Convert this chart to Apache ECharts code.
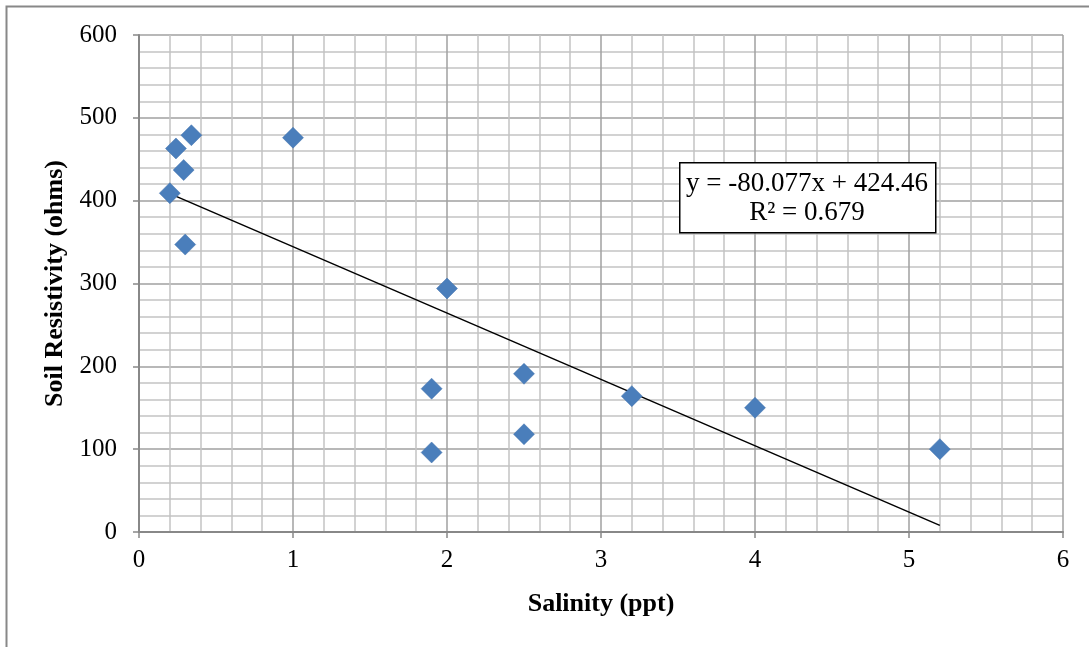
<!DOCTYPE html>
<html>
<head>
<meta charset="utf-8">
<script src="https://cdn.jsdelivr.net/npm/echarts@6/dist/echarts.min.js"></script>
<style>html,body{margin:0;padding:0;background:#fff;}#c{width:1089px;height:647px;}</style>
</head>
<body>
<div id="c"></div>
<script>
const salinity = [0.2, 0.24, 0.29, 0.34, 0.3, 1.0, 2.0, 1.9, 1.9, 2.5, 2.5, 3.2, 4.0, 5.2];
const resistivity = [409, 463, 437, 479, 347, 476, 294, 173, 96, 191, 118, 164, 150, 100];
const slope = -80.077;
const intercept = 424.46;
const trendX = [0.2, 5.2];
const eqText = ['y = -80.077x + 424.46', 'R² = 0.679'];

const chart = echarts.init(document.getElementById('c'));
const font = 'Liberation Serif, Times New Roman, serif';
chart.setOption({
  animation: false,
  grid: {left: 139, right: 26, top: 35, bottom: 115},
  xAxis: {
    type: 'value', min: 0, max: 6, interval: 1,
    name: 'Salinity (ppt)', nameLocation: 'middle', nameGap: 59,
    nameTextStyle: {fontFamily: font, fontSize: 26, fontWeight: 'bold', color: '#000'},
    axisLine: {show: true, onZero: false, lineStyle: {color: '#888', width: 2}},
    axisTick: {show: true, inside: false, length: 6, lineStyle: {color: '#888', width: 1.5}},
    axisLabel: {fontFamily: font, fontSize: 25, color: '#000', margin: 16},
    splitLine: {show: true, lineStyle: {color: '#a0a0a0', width: 1.5}},
    minorTick: {show: false, splitNumber: 5},
    minorSplitLine: {show: true, lineStyle: {color: '#c4c4c4', width: 1.5}}
  },
  yAxis: {
    type: 'value', min: 0, max: 600, interval: 100,
    name: 'Soil Resistivity (ohms)', nameLocation: 'middle', nameGap: 69,
    nameTextStyle: {fontFamily: font, fontSize: 26, fontWeight: 'bold', color: '#000'},
    axisLine: {show: true, lineStyle: {color: '#888', width: 2}},
    axisTick: {show: true, inside: false, length: 6, lineStyle: {color: '#888', width: 1.5}},
    axisLabel: {fontFamily: font, fontSize: 25, color: '#000', margin: 22},
    splitLine: {show: true, lineStyle: {color: '#a0a0a0', width: 1.5}},
    minorTick: {show: false, splitNumber: 5},
    minorSplitLine: {show: true, lineStyle: {color: '#c4c4c4', width: 1.5}}
  },
  series: [
    {
      type: 'line',
      data: trendX.map(x => [x, slope * x + intercept]),
      symbol: 'none',
      lineStyle: {color: '#000', width: 1.5},
      z: 3
    },
    {
      type: 'scatter',
      data: salinity.map((x, i) => [x, resistivity[i]]),
      symbol: 'diamond',
      symbolSize: [21, 21],
      itemStyle: {color: '#4a7ebb', borderColor: '#4272ad', borderWidth: 0.5, opacity: 1},
      z: 4
    }
  ],
  graphic: [
    {type: 'rect', left: 4, top: 4, shape: {width: 1200, height: 800}, style: {fill: 'none', stroke: '#888', lineWidth: 2}, silent: true, z: 0},
    {type: 'rect', left: 679, top: 162, shape: {width: 256, height: 70}, style: {fill: '#fff', stroke: '#000', lineWidth: 1.5}, z: 10},
    {type: 'text', x: 807, y: 184, style: {text: eqText[0], font: '27px ' + font, fill: '#000', textAlign: 'center', textVerticalAlign: 'middle'}, z: 11},
    {type: 'text', x: 807, y: 213, style: {text: eqText[1], font: '27px ' + font, fill: '#000', textAlign: 'center', textVerticalAlign: 'middle'}, z: 11}
  ]
});
</script>
</body>
</html>
